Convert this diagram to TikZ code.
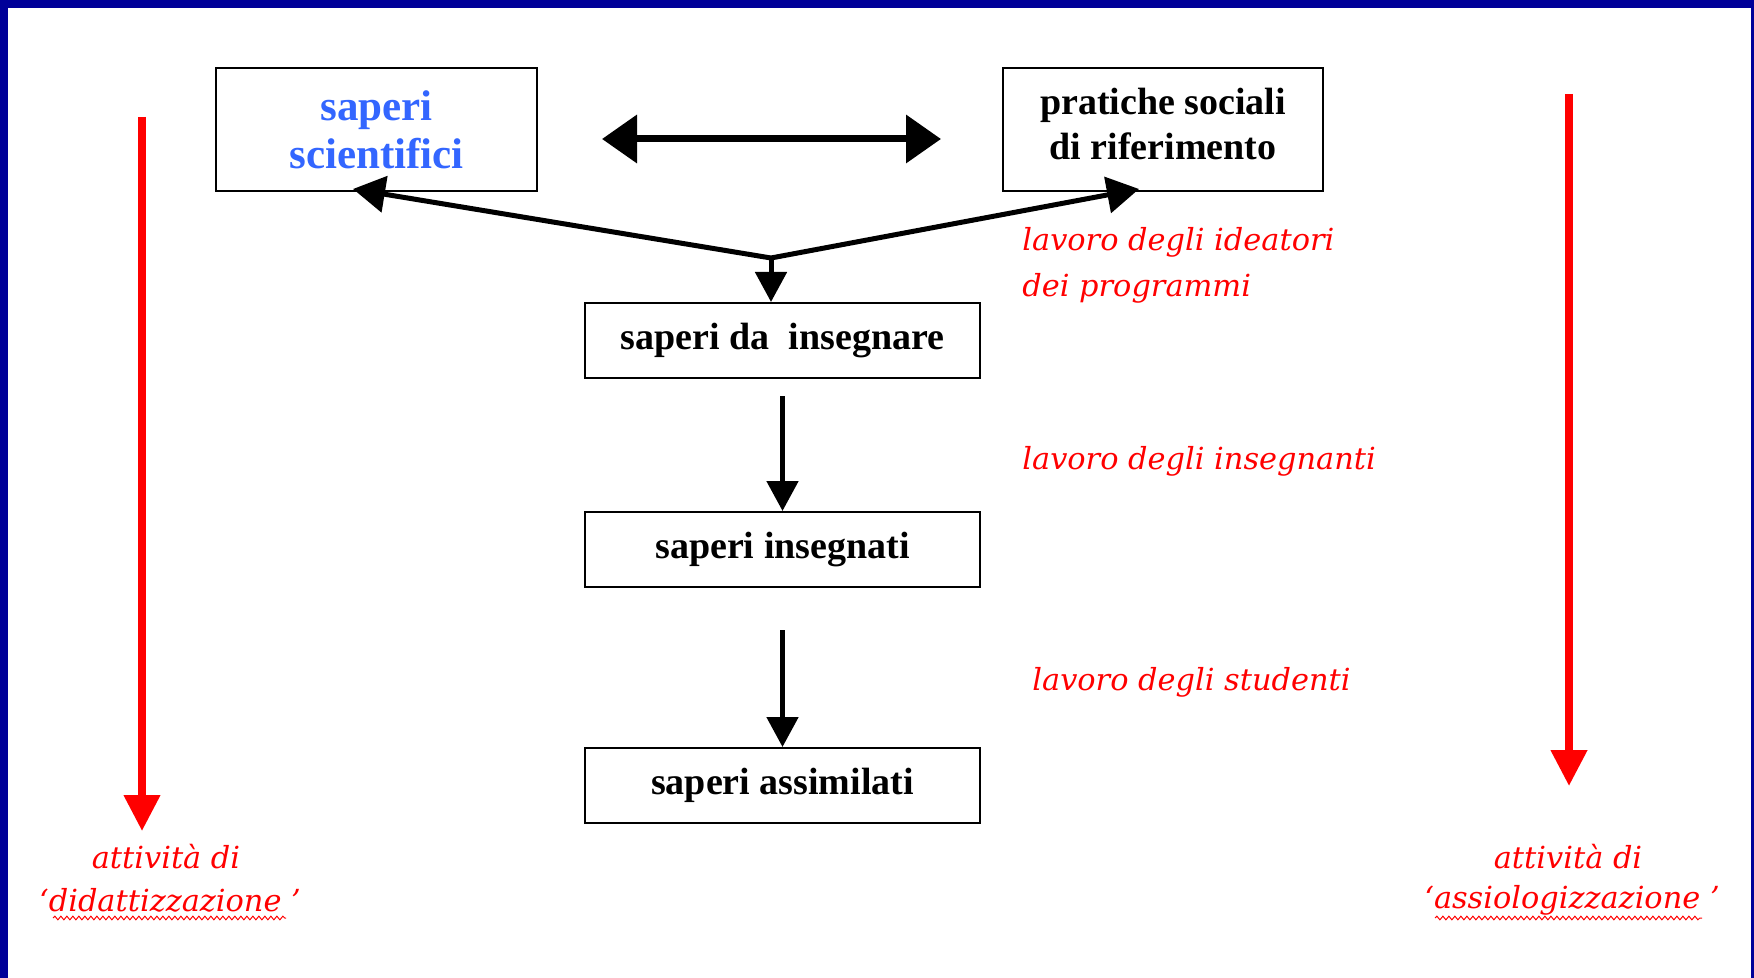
\documentclass[tikz,border=0pt]{standalone}
\usepackage{fontspec}
\setmainfont{Liberation Serif}
\newfontfamily\redfont{DejaVu Serif}
\usetikzlibrary{arrows.meta,calc,decorations.pathmorphing}
\definecolor{frameblue}{RGB}{0,0,153}
\definecolor{sciblue}{RGB}{51,102,255}
\definecolor{lblred}{RGB}{255,0,0}
\begin{document}
\begin{tikzpicture}[x=0.5pt,y=-0.5pt,
  box/.style={draw,line width=1pt,inner sep=0pt,align=center,
    font=\fontsize{19}{22.5}\selectfont\bfseries},
  flow/.style={line width=2.5pt,-{Triangle[length=15pt,width=15.5pt]}},
  vflow/.style={line width=2.5pt,-{Triangle[length=16pt,width=18pt]}},
  twoway/.style={line width=3.5pt,{Triangle[length=17.5pt,width=23.5pt]}-{Triangle[length=17.5pt,width=23.5pt]}},
  redarrow/.style={lblred,line width=3.75pt,-{Triangle[length=18pt,width=17.5pt]}},
  redlbl/.style={text=lblred,inner sep=0pt,font=\redfont\itshape\fontsize{15.2}{23}\selectfont},
  squiggle/.style={lblred,line width=0.5pt,decorate,decoration={snake,amplitude=0.9pt,segment length=3pt}}
]
% frame and bounding box
\useasboundingbox (0,0) rectangle (1754,978);
\fill[frameblue] (0,0) rectangle (1754,978);
\fill[white] (8,8) rectangle (1751,978);

% boxes
\node[box,minimum width=160.5pt,minimum height=61.5pt,text=sciblue,
  font=\fontsize{21.5}{24}\selectfont\bfseries] (A) at (376.5,129.5) {saperi\\scientifici};
\node[box,minimum width=160pt,minimum height=61.5pt] (B) at (1163,129.5) {pratiche sociali\\di riferimento\\[-17pt]\mbox{}};
\node[box,minimum width=197.5pt,minimum height=37.5pt] (C) at (782.5,340.5) {saperi da\ \ insegnare};
\node[box,minimum width=197.5pt,minimum height=37.5pt] (D) at (782.5,549.5) {saperi insegnati};
\node[box,minimum width=197.5pt,minimum height=37.5pt] (E) at (782.5,785.5) {saperi assimilati};

% connectors
\coordinate (apex) at (771,258);
\draw[twoway] ($(A.east)+(64,9.5)$) -- ($(B.west)+(-61,9.5)$);
\draw[vflow,line join=miter] (apex) -- ($(A.south)+(-23.5,-3)$);
\draw[vflow,line join=miter] (apex) -- ($(B.south)+(-24,-3)$);
\draw[flow] (apex) -- (apex |- C.north);
\draw[flow] ($(C.south)+(0,17)$) -- (D.north);
\draw[flow] ($(D.south)+(0,42)$) -- (E.north);

% red side arrows
\coordinate (L1) at (142,117);
\coordinate (L2) at (142,831);
\coordinate (R1) at (1569,94);
\coordinate (R2) at (1569,786);
\draw[redarrow] (L1) -- (L2);
\draw[redarrow] (R1) -- (R2);

% red labels
\node[redlbl,anchor=west,align=left] (lab1) at (1022,265) {lavoro degli ideatori\\dei programmi};
\node[redlbl,anchor=west] (lab2) at (1022,461) {lavoro degli insegnanti};
\node[redlbl,anchor=west] (lab3) at (1032,682) {lavoro degli studenti};
\node[redlbl,align=center] (dl1) at (166,857) {attività di};
\node[redlbl,align=center] (dl2) at (170,900) {‘didattizzazione ’};
\node[redlbl,align=center] (al1) at (1568,857) {attività di};
\node[redlbl,align=center] (al2) at (1572,900) {‘assiologizzazione ’};

% spell-check squiggles
\draw[squiggle] (53,918) -- (286,918);
\draw[squiggle] (1435,918) -- (1702,918);
\end{tikzpicture}
\end{document}
